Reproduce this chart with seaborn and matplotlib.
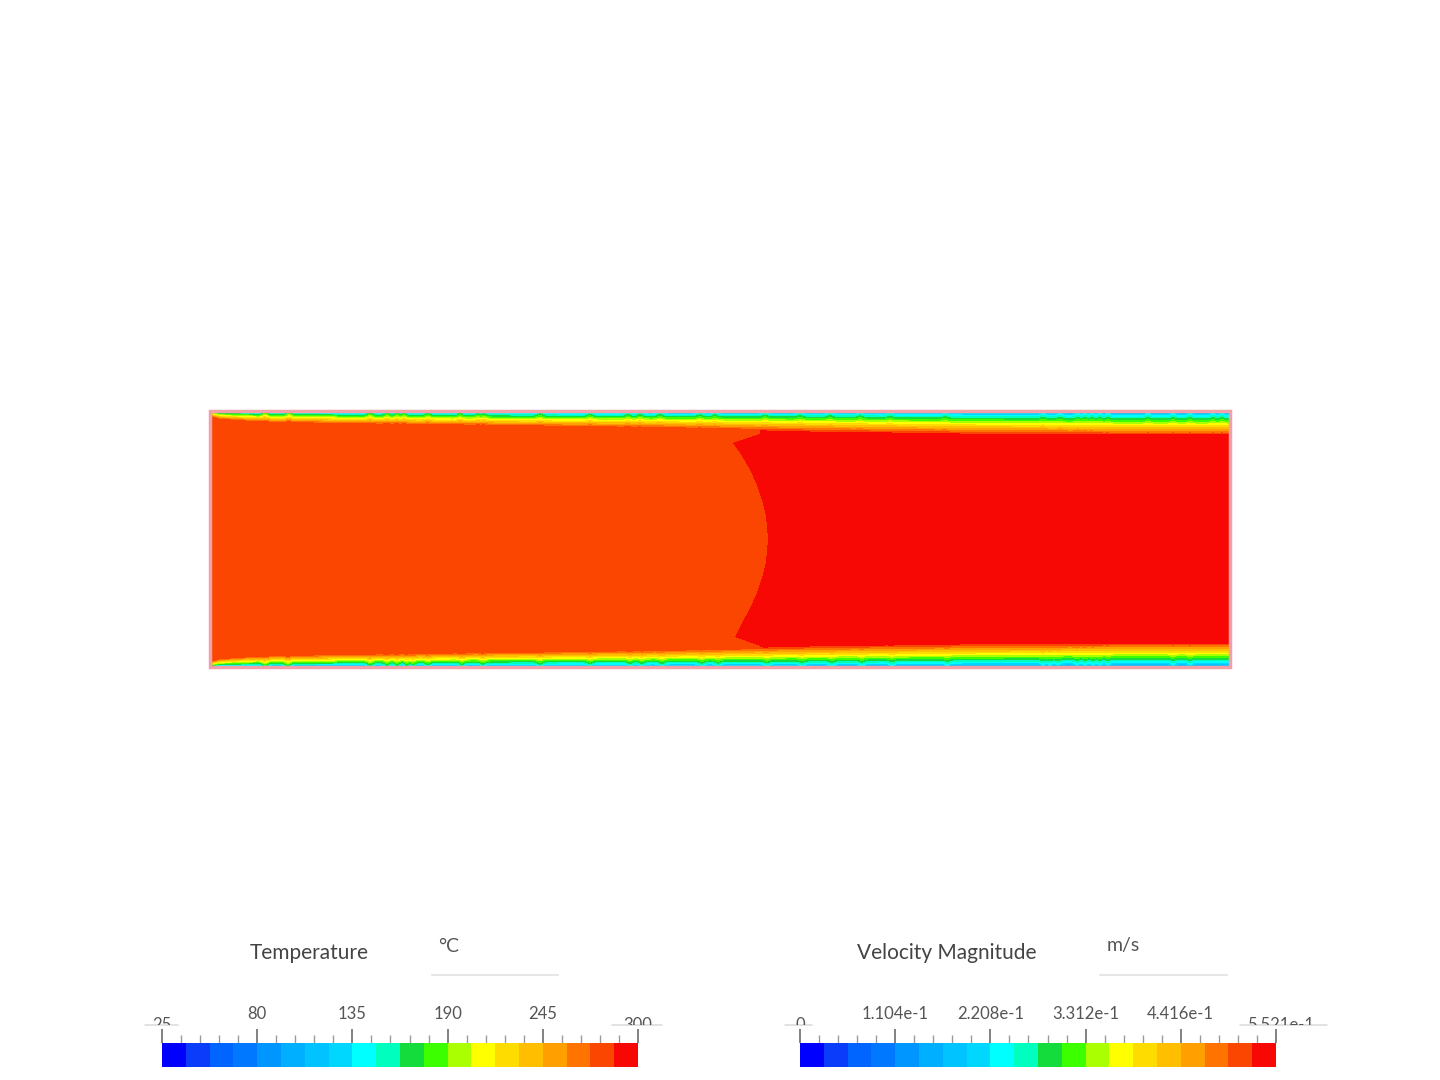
import numpy as np
import matplotlib
matplotlib.use("Agg")
import matplotlib.pyplot as plt
import seaborn as sns
from matplotlib.colors import ListedColormap
from matplotlib.patches import Rectangle
from matplotlib.lines import Line2D

# ---------------- data ----------------
band_colors = ["#0000ff", "#0a3cfa", "#0064ff", "#0078ff", "#0096ff", "#00afff",
               "#00c3ff", "#00d7ff", "#00ffff", "#00ffbe", "#14dc3c", "#3cff00",
               "#aaff00", "#ffff00", "#ffdc00", "#ffbe00", "#ffa000", "#ff7300",
               "#fa4600", "#f70805"]

temp_ticks = [25, 80, 135, 190, 245, 300]
temp_labels = ["25", "80", "135", "190", "245", "300"]
vel_ticks = [0.0, 0.1104, 0.2208, 0.3312, 0.4416, 0.5521]
vel_labels = ["0", "1.104e-1", "2.208e-1", "3.312e-1", "4.416e-1", "5.521e-1"]

# pipe section sampled in pixels (columns along the pipe, rows across)
n_cols, n_rows = 1020, 256
station_x = [0, 10, 50, 150, 300, 450, 600, 750, 900, 1020]
layer_depth = [4, 7, 10, 12, 14, 16, 19, 21, 22, 22]        # depth where core level is reached
wall_level = [11, 9, 8, 7.5, 7, 7, 7, 6.5, 6, 6]            # colour level at the wall
front_row = [23, 32, 45, 59, 74, 89, 105, 128, 151, 167, 182, 197, 212, 226, 235]
front_col = [550, 523, 532, 540, 547, 552, 556, 558, 556, 552, 547, 540, 532, 525, 550]
bumps_top = [55, 79, 160, 177, 187, 194, 218, 250, 268, 274, 330, 380, 418, 430,
             450, 490, 505, 555, 590, 620, 650, 680, 735, 833, 850, 868, 875, 882,
             890, 898, 938, 963, 980, 1003, 1012]
bumps_bottom = [55, 78, 160, 177, 187, 197, 203, 218, 252, 273, 330, 380, 420, 432,
                452, 492, 508, 557, 592, 622, 652, 682, 737, 833, 840, 848, 867, 875,
                883, 890, 898, 963, 980]
core_levels = [18, 19]

# ---------------- field ----------------
cols = np.arange(n_cols) + 0.5
rows = np.arange(n_rows) + 0.5
delta = np.interp(cols, station_x, layer_depth)
wallb = np.interp(cols, station_x, wall_level)


def bump_field(pos):
    g = np.zeros(n_cols)
    for p in pos:
        g = np.maximum(g, np.exp(-((cols - p) / 3.5) ** 2))
    return g


def profile(d, g):
    d = np.clip(d, 0, None)[:, None]
    de = d + 2.5 * g[None, :] * np.exp(-d / 7.0)
    return wallb[None, :] + (19 - wallb[None, :]) * (de / delta[None, :]) ** 0.9


lev_top = profile(rows - 1.5, bump_field(bumps_top))
lev_bot = profile((n_rows - 1.5) - rows, bump_field(bumps_bottom))
level = np.minimum(lev_top, lev_bot)
front = np.interp(rows, front_row, front_col)
core = np.where(cols[None, :] >= front[:, None], core_levels[1], core_levels[0])
field = np.clip(np.floor(np.minimum(level, core)), 0, 19)

cmap = ListedColormap(band_colors)

# ---------------- figure ----------------
sns.set_theme(style="white")
plt.rcParams["font.family"] = ["Lato", "DejaVu Sans"]
W, H = 1440, 1080
fig = plt.figure(figsize=(W / 100, H / 100), dpi=100, facecolor="white")


def fx(x):
    return x / W


def fy(y):
    return 1 - y / H


ax = fig.add_axes([fx(210), fy(667), fx(1020), 256 / H])
sns.heatmap(field, cmap=cmap, vmin=-0.5, vmax=19.5, cbar=False,
            xticklabels=False, yticklabels=False, ax=ax, rasterized=True)
ax.add_patch(Rectangle((0, 0), 1, 1, transform=ax.transAxes, fill=False,
                       edgecolor="#f2a0a8", lw=2.5, clip_on=False))


def colorbar(x0, x1, ticks, labels, title, title_x, unit, unit_x, line_x, unit_line):
    cax = fig.add_axes([fx(x0), fy(1067), fx(x1 - x0), 24 / H])
    sns.heatmap(np.arange(20).reshape(1, 20), cmap=cmap, vmin=-0.5, vmax=19.5,
                cbar=False, xticklabels=False, yticklabels=False, ax=cax)
    lo, hi = ticks[0], ticks[-1]
    pos = [(t - lo) / (hi - lo) * 20 for t in ticks]
    cax.xaxis.tick_top()
    cax.set_xticks(pos)
    cax.set_xticklabels([""] + labels[1:-1] + [""])
    minor = [i * 20 / 25 for i in range(26) if i % 5 != 0]
    cax.set_xticks(minor, minor=True)
    cax.tick_params(axis="x", which="major", length=10, width=1.3, color="#777777",
                    pad=5, labelsize=12, labelcolor="#555555", top=True, bottom=False)
    cax.tick_params(axis="x", which="minor", length=5.5, width=1.0, color="#999999",
                    top=True, bottom=False)
    cax.set_xlim(0, 20)
    # clipped end labels
    ends = [(labels[0], x0, line_x[0]),
            (labels[-1], x1 + (5 if len(labels[-1]) > 3 else 0), line_x[1])]
    for lab, xc, (la, lb) in ends:
        t = fig.text(fx(xc), fy(1025), lab, ha="center", va="center", fontsize=12,
                     color="#555555")
        clip = Rectangle((fx(xc - 60), fy(1025)), fx(120), 40 / H,
                         transform=fig.transFigure, fill=False, visible=False)
        fig.add_artist(clip)
        t.set_clip_path(clip)
        fig.add_artist(Line2D([fx(la), fx(lb)], [fy(1025), fy(1025)],
                              color="#dddddd", lw=1.2))
    fig.text(fx(title_x), fy(953), title, ha="center", va="center", fontsize=15,
             color="#444444")
    fig.text(fx(unit_x), fy(946), unit, ha="center", va="center", fontsize=14,
             color="#555555")
    fig.add_artist(Line2D([fx(unit_line[0]), fx(unit_line[1])], [fy(975), fy(975)],
                          color="#e6e6e6", lw=1.5))


colorbar(162, 638, temp_ticks, temp_labels, "Temperature", 309, "°C", 449,
         [(145, 178), (612, 662)], (432, 558))
colorbar(800, 1276, vel_ticks, vel_labels, "Velocity Magnitude", 947, "m/s", 1123,
         [(785, 812), (1240, 1327)], (1100, 1227))

fig.savefig("out.png", dpi=100, facecolor="white")
